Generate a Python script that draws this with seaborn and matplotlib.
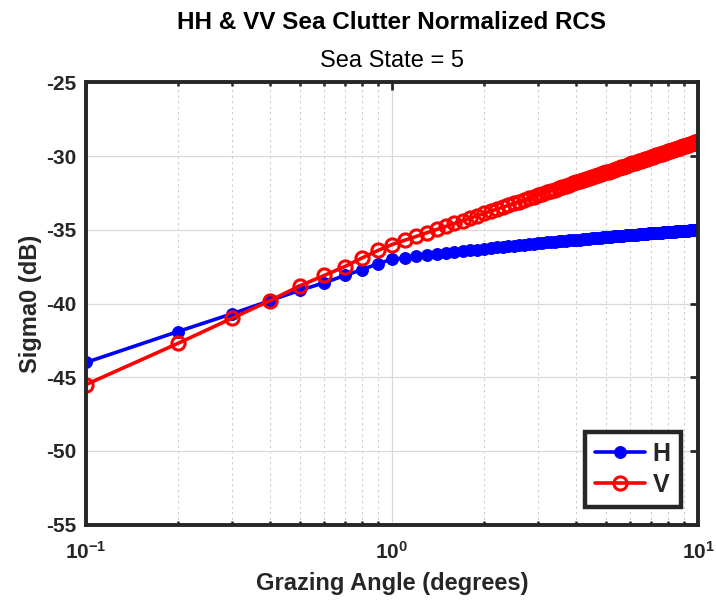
import matplotlib
matplotlib.use("Agg")
import matplotlib.pyplot as plt
import seaborn as sns
from matplotlib.ticker import LogLocator, NullLocator, FixedLocator

# grazing angles 0.1 : 0.1 : 10 degrees
angles = [
    0.1, 0.2, 0.3, 0.4, 0.5, 0.6, 0.7, 0.8, 0.9, 1.0,
    1.1, 1.2, 1.3, 1.4, 1.5, 1.6, 1.7, 1.8, 1.9, 2.0,
    2.1, 2.2, 2.3, 2.4, 2.5, 2.6, 2.7, 2.8, 2.9, 3.0,
    3.1, 3.2, 3.3, 3.4, 3.5, 3.6, 3.7, 3.8, 3.9, 4.0,
    4.1, 4.2, 4.3, 4.4, 4.5, 4.6, 4.7, 4.8, 4.9, 5.0,
    5.1, 5.2, 5.3, 5.4, 5.5, 5.6, 5.7, 5.8, 5.9, 6.0,
    6.1, 6.2, 6.3, 6.4, 6.5, 6.6, 6.7, 6.8, 6.9, 7.0,
    7.1, 7.2, 7.3, 7.4, 7.5, 7.6, 7.7, 7.8, 7.9, 8.0,
    8.1, 8.2, 8.3, 8.4, 8.5, 8.6, 8.7, 8.8, 8.9, 9.0,
    9.1, 9.2, 9.3, 9.4, 9.5, 9.6, 9.7, 9.8, 9.9, 10.0,
]

# sigma0 (dB), horizontal polarisation
sigma_h = [
    -44.0, -41.9, -40.7, -39.8, -39.1, -38.6, -38.1, -37.7, -37.3, -37.0,
    -36.90, -36.81, -36.72, -36.65, -36.58, -36.51, -36.45, -36.39, -36.34, -36.29,
    -36.25, -36.20, -36.16, -36.12, -36.08, -36.05, -36.01, -35.98, -35.95, -35.92,
    -35.89, -35.86, -35.84, -35.81, -35.79, -35.76, -35.74, -35.72, -35.70, -35.68,
    -35.66, -35.64, -35.62, -35.60, -35.58, -35.56, -35.55, -35.53, -35.51, -35.50,
    -35.48, -35.47, -35.45, -35.44, -35.42, -35.41, -35.40, -35.38, -35.37, -35.36,
    -35.35, -35.33, -35.32, -35.31, -35.30, -35.29, -35.28, -35.27, -35.25, -35.24,
    -35.23, -35.22, -35.21, -35.20, -35.20, -35.19, -35.18, -35.17, -35.16, -35.15,
    -35.14, -35.13, -35.12, -35.12, -35.11, -35.10, -35.09, -35.08, -35.08, -35.07,
    -35.06, -35.05, -35.05, -35.04, -35.03, -35.03, -35.02, -35.01, -35.01, -35.00,
]

# sigma0 (dB), vertical polarisation
sigma_v = [
    -45.5, -42.7, -41.0, -39.8, -38.8, -38.1, -37.5, -36.9, -36.4, -36.0,
    -35.71, -35.45, -35.20, -34.98, -34.77, -34.57, -34.39, -34.21, -34.05, -33.89,
    -33.74, -33.60, -33.47, -33.34, -33.21, -33.10, -32.98, -32.87, -32.76, -32.66,
    -32.56, -32.46, -32.37, -32.28, -32.19, -32.11, -32.02, -31.94, -31.86, -31.79,
    -31.71, -31.64, -31.57, -31.50, -31.43, -31.36, -31.30, -31.23, -31.17, -31.11,
    -31.05, -30.99, -30.93, -30.87, -30.82, -30.76, -30.71, -30.66, -30.60, -30.55,
    -30.50, -30.45, -30.41, -30.36, -30.31, -30.26, -30.22, -30.17, -30.13, -30.08,
    -30.04, -30.00, -29.96, -29.92, -29.87, -29.83, -29.79, -29.76, -29.72, -29.68,
    -29.64, -29.60, -29.57, -29.53, -29.49, -29.46, -29.42, -29.39, -29.35, -29.32,
    -29.29, -29.25, -29.22, -29.19, -29.16, -29.12, -29.09, -29.06, -29.03, -29.00,
]

y_ticks = [-55, -50, -45, -40, -35, -30, -25]

sns.set_style("white")
plt.rcParams["font.family"] = ["Liberation Sans", "DejaVu Sans"]
plt.rcParams["mathtext.default"] = "bf"
plt.rcParams["axes.unicode_minus"] = False

fig, ax = plt.subplots(figsize=(7.16, 6.01), dpi=100)
fig.subplots_adjust(left=0.120, right=0.975, top=0.863, bottom=0.127)

sns.lineplot(x=angles, y=sigma_h, ax=ax, color="#0000ff", marker="o",
             markersize=8.5, markeredgecolor="#0000ff", linewidth=2.6, label="H")
sns.lineplot(x=angles, y=sigma_v, ax=ax, color="#ff0000", marker="o",
             markersize=9.5, markerfacecolor="none", markeredgecolor="#ff0000",
             markeredgewidth=2.2, linewidth=2.6, label="V")

ax.set_xscale("log")
ax.set_xlim(0.1, 10)
ax.set_ylim(-55, -25)
ax.yaxis.set_major_locator(FixedLocator(y_ticks))
ax.yaxis.set_minor_locator(NullLocator())
ax.xaxis.set_major_locator(LogLocator(base=10))
ax.xaxis.set_minor_locator(LogLocator(base=10, subs=range(2, 10)))

ax.grid(True, which="major", color="#d9d9d9", linewidth=0.9)
ax.grid(True, which="minor", axis="x", color="#cccccc", linestyle=(0, (2, 3)), linewidth=0.8)

for side in ax.spines.values():
    side.set_linewidth(2.8)
    side.set_color("#262626")

ax.tick_params(which="major", direction="in", top=True, right=True, length=6,
               width=2, color="#262626", labelsize=15, pad=7)
ax.tick_params(axis="x", which="major", pad=12)
ax.tick_params(which="minor", direction="in", top=True, bottom=True, length=3,
               width=1.8, color="#262626")
for lab in ax.get_xticklabels() + ax.get_yticklabels():
    lab.set_fontweight("bold")
    lab.set_color("#262626")

ax.set_xlabel("Grazing Angle (degrees)", fontsize=17, fontweight="bold", color="#262626", labelpad=6)
ax.set_ylabel("Sigma0 (dB)", fontsize=17, fontweight="bold", color="#262626", labelpad=3)

fig.text(0.547, 0.962, "HH & VV Sea Clutter Normalized RCS", ha="center", va="center",
         fontsize=17.5, fontweight="bold", color="black")
fig.text(0.547, 0.899, "Sea State = 5", ha="center", va="center", fontsize=17, color="black")

leg = ax.legend(loc="lower right", handlelength=2.0, handletextpad=0.3, frameon=True,
                fancybox=False, framealpha=1, borderaxespad=0.7, borderpad=0.4,
                labelspacing=0.3, prop={"weight": "bold", "size": 18})
leg.get_frame().set_edgecolor("#262626")
leg.get_frame().set_linewidth(3.2)

fig.savefig("out.png", dpi=100)
